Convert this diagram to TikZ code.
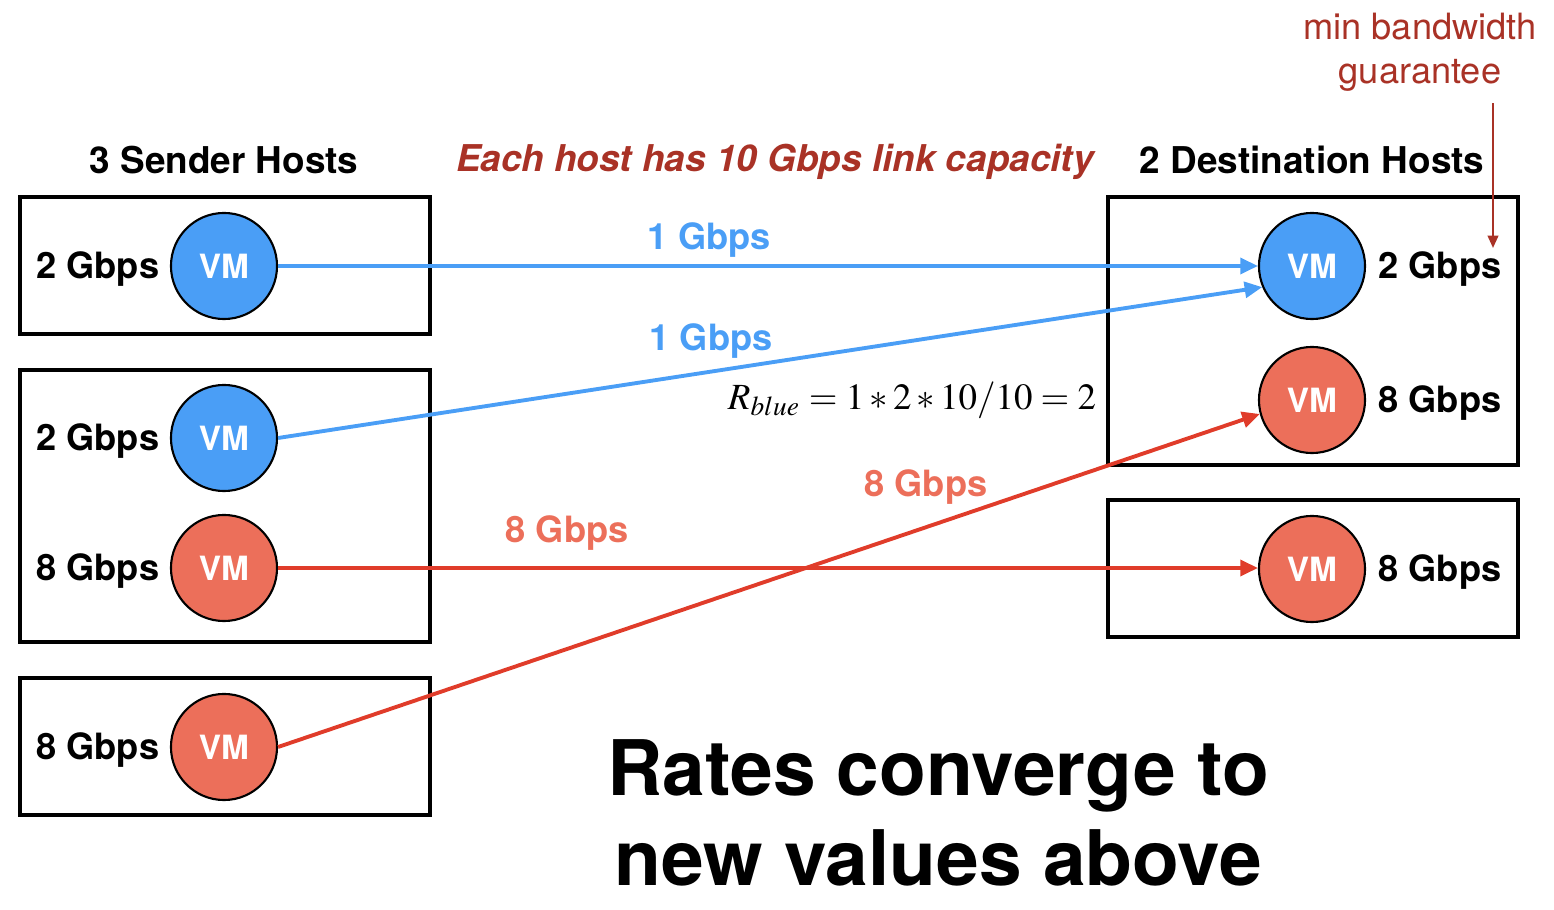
\documentclass[tikz,border=0pt]{standalone}
\usepackage{mathptmx}
\usepackage{fontspec}
\setmainfont{TeX Gyre Heros}
\usetikzlibrary{arrows.meta, positioning}
\definecolor{vmblue}{HTML}{4A9EF6}
\definecolor{vmred}{HTML}{EC6F5A}
\definecolor{linkred}{HTML}{E03C2A}
\definecolor{notered}{HTML}{A93226}

\begin{document}
\begin{tikzpicture}[x=0.01cm, y=-0.01cm, >={Triangle[length=5pt, width=4.5pt]}]
    \tikzset{
        hostbox/.style={draw, line width=1.2pt},
        vm/.style={circle, draw, line width=0.6pt, minimum size=1.06cm, inner sep=0pt,
            text=white, font=\fontsize{9.5}{11}\selectfont\bfseries},
        bw/.style={font=\fontsize{10.3}{12}\selectfont\bfseries, yshift=-0.8pt},
        head/.style={font=\fontsize{10.5}{12}\selectfont\bfseries},
        bluelink/.style={->, vmblue, line width=1.1pt},
        redlink/.style={->, linkred, line width=1.1pt},
        rate/.style={above, font=\fontsize{10.3}{12}\selectfont\bfseries},
    }
    \useasboundingbox (0,0) rectangle (1554,910);

    % hosts
    \draw[hostbox] (20,197) rectangle (430,334);
    \draw[hostbox] (20,370) rectangle (430,642);
    \draw[hostbox] (20,678) rectangle (430,815);
    \draw[hostbox] (1108,197) rectangle (1518,465);
    \draw[hostbox] (1108,500) rectangle (1518,637);

    % headings
    \node[head] (senders) at (224,160) {3 Sender Hosts};
    \node[head, text=notered, font=\fontsize{10.5}{12}\selectfont\bfseries\itshape] (capacity) at (775,162) {Each host has 10 Gbps link capacity};
    \node[head] (dests) at (1312,160) {2 Destination Hosts};

    % sender VMs
    \node[vm, fill=vmblue] (s1) at (224,266) {VM};
    \node[vm, fill=vmblue] (s2a) at (224,438) {VM};
    \node[vm, fill=vmred] (s2b) at (224,568) {VM};
    \node[vm, fill=vmred] (s3) at (224,747) {VM};
    \node[bw, left=-0.5pt of s1] (s1bw) {2 Gbps};
    \node[bw, left=-0.5pt of s2a] (s2abw) {2 Gbps};
    \node[bw, left=-0.5pt of s2b] (s2bbw) {8 Gbps};
    \node[bw, left=-0.5pt of s3] (s3bw) {8 Gbps};

    % destination VMs
    \node[vm, fill=vmblue] (d1a) at (1312,266) {VM};
    \node[vm, fill=vmred] (d1b) at (1312,400) {VM};
    \node[vm, fill=vmred] (d2) at (1312,569) {VM};
    \node[bw, right=0pt of d1a] (d1abw) {2 Gbps};
    \node[bw, right=0pt of d1b] (d1bbw) {8 Gbps};
    \node[bw, right=0pt of d2] (d2bw) {8 Gbps};

    % flows
    \draw[bluelink] (s1.east) -- node[rate, text=vmblue, pos=0.44, yshift=-1.5pt] {1 Gbps} (d1a.west);
    \draw[bluelink] (s2a.east) -- node[rate, text=vmblue, pos=0.44] {1 Gbps} (d1a.203);
    \draw[redlink] (s2b.east) -- node[rate, text=vmred, pos=0.295, yshift=1pt] {8 Gbps} (s2b.east -| d2.west);
    \draw[redlink] (s3.east) -- node[rate, text=vmred, pos=0.66, yshift=2.5pt] {8 Gbps} (d1b.195);

    \node[font=\fontsize{10.5}{12}\selectfont] (rblue) at (912,400) {$R_{blue} = 1 * 2 * 10/10 = 2$};

    % annotation
    \node[align=center, text=notered, font=\fontsize{10.3}{12.4}\selectfont] (note) at (1420,52) {min bandwidth\\guarantee};
    \coordinate (gtip) at (1493,248);
    \draw[->, notered, line width=0.6pt, >={Triangle[length=3.5pt, width=3pt]}] (note.south -| gtip) -- (gtip);

    \node[align=center, font=\fontsize{21.8}{25.6}\selectfont\bfseries] (converge) at (938,813) {Rates converge to\\new values above};
\end{tikzpicture}
\end{document}
